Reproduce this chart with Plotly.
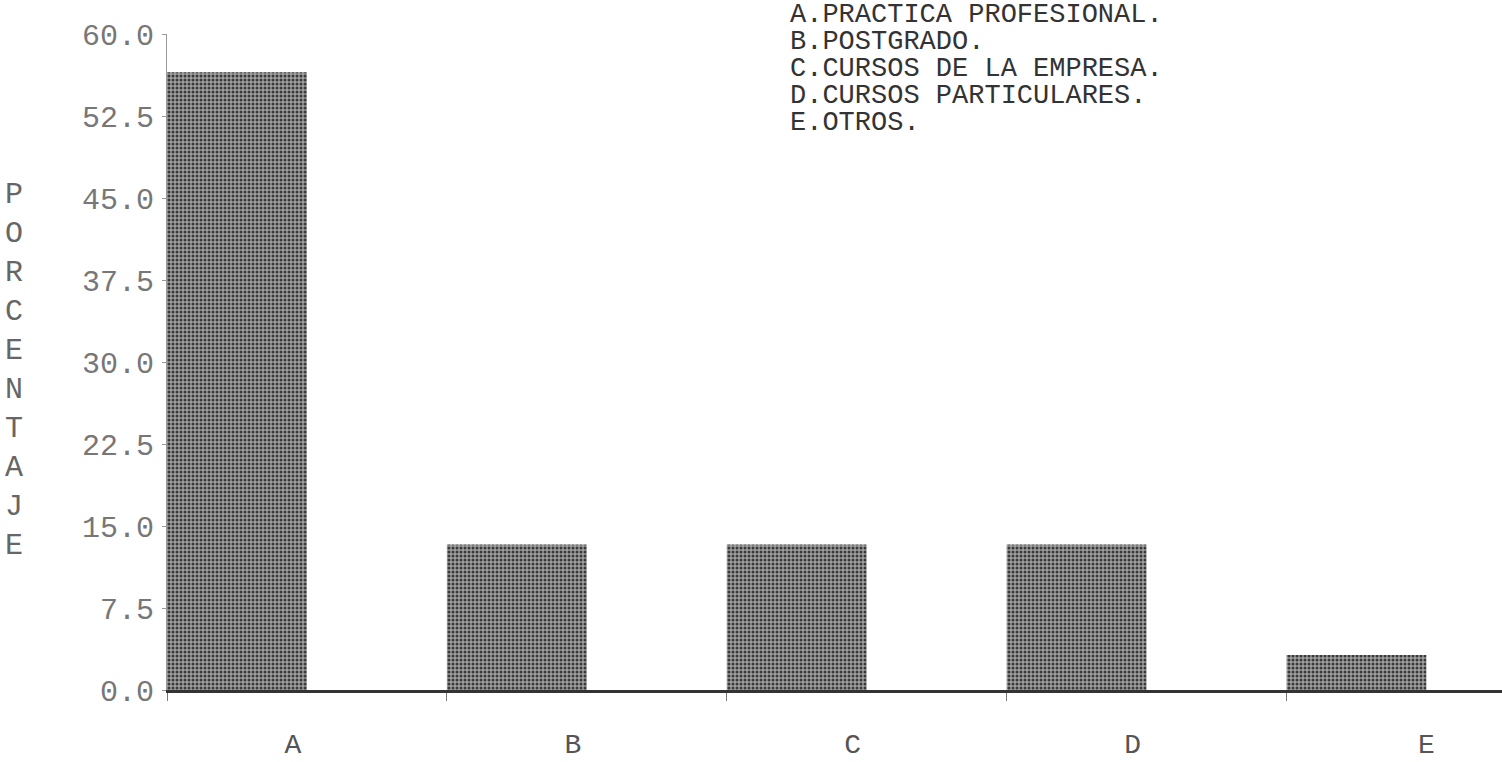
'''
Bar chart: porcentaje por tipo de formacion (A-E)
'''
import plotly.graph_objects as go

# Data
categorias = ["A", "B", "C", "D", "E"]
porcentajes = [56.5, 13.3, 13.3, 13.3, 3.2]
leyenda = ["A.PRACTICA PROFESIONAL.",
           "B.POSTGRADO.",
           "C.CURSOS DE LA EMPRESA.",
           "D.CURSOS PARTICULARES.",
           "E.OTROS."]
y_ticks = [0.0, 7.5, 15.0, 22.5, 30.0, 37.5, 45.0, 52.5, 60.0]
titulo_y = "PORCENTAJE"

FONT = "Liberation Mono"
idx = list(range(len(categorias)))

# plot box in page pixels (body margin removed below)
L, T, W, H = 167, 34, 1335, 656


def px(x):
    '''page x pixel -> paper coordinate'''
    return (x - L) / W


def py(y):
    '''page y pixel -> paper coordinate'''
    return 1 - (y - T) / H


fig = go.Figure()

# bars sit on the left half of each slot
fig.add_trace(go.Bar(x=idx,
                     y=porcentajes,
                     width=0.5,
                     offset=0,
                     marker=dict(color="#8c8c8c",
                                 line=dict(width=0),
                                 pattern=dict(shape=".",
                                              fgcolor="#3a3a3a",
                                              bgcolor="#a0a0a0",
                                              size=4,
                                              solidity=0.45)),
                     showlegend=False))

# invisible trace to hold the category labels axis
fig.add_trace(go.Scatter(x=[i + 0.45 for i in idx], y=[0] * len(idx),
                         xaxis="x2", mode="markers",
                         marker=dict(opacity=0), showlegend=False,
                         hoverinfo="skip"))

fig.update_layout(
    template="none",
    width=1502, height=762,
    margin=dict(l=L, r=1502 - L - W, t=T, b=762 - T - H, autoexpand=False),
    paper_bgcolor="white",
    plot_bgcolor="white",
    xaxis=dict(range=[0, 4.77],
               showgrid=False, zeroline=False,
               showline=True, linecolor="#333333", linewidth=3,
               tickvals=idx, ticktext=[""] * len(idx),
               ticks="outside", ticklen=8, tickwidth=1,
               tickcolor="#777777"),
    xaxis2=dict(range=[0, 4.77], overlaying="x", side="bottom",
                showgrid=False, zeroline=False, showline=False,
                tickvals=[i + 0.45 for i in idx[:-1]] + [idx[-1] + 0.5],
                ticktext=categorias, ticks="",
                ticklabelstandoff=34,
                tickfont=dict(family=FONT, size=28, color="#555555")),
    yaxis=dict(range=[0, 60],
               showgrid=False, zeroline=False,
               showline=True, linecolor="#999999", linewidth=1,
               tickvals=y_ticks, tickformat=".1f",
               ticks="outside", ticklen=4, tickcolor="#999999",
               ticklabelstandoff=2,
               tickfont=dict(family=FONT, size=30, color="#777777")),
)

# vertical axis title, one letter per line
fig.add_annotation(text="<br>".join(titulo_y),
                   xref="paper", yref="paper",
                   x=px(14), y=py(370),
                   xanchor="center", yanchor="middle",
                   showarrow=False, align="center",
                   font=dict(family=FONT, size=30, color="#666666"))

# legend block in the top right
for k, linea in enumerate(leyenda):
    fig.add_annotation(text=linea,
                       xref="paper", yref="paper",
                       x=px(788), y=py(15 + 27 * k),
                       xanchor="left", yanchor="middle",
                       showarrow=False,
                       font=dict(family=FONT, size=27, color="#333333"))

fig.write_html("out.html",
               config={"displayModeBar": False},
               post_script="document.body.style.margin = '0';")
